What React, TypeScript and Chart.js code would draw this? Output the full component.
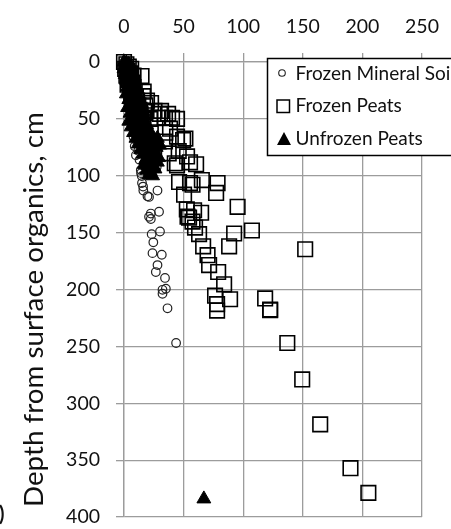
import React, { useEffect, useRef } from 'react';
import { Chart, registerables } from 'chart.js';

Chart.register(...registerables);

// ---- data ----
const xTickValues = [0, 50, 100, 150, 200, 250];
const yTickValues = [0, 50, 100, 150, 200, 250, 300, 350, 400];
const seriesNames = ['Frozen Mineral Soil', 'Frozen Peats', 'Unfrozen Peats'];
const yAxisTitle = 'Depth from surface organics, cm';
const panelMark = ')';

// [x, depth]
const mineralSoil: [number, number][] = [
  [1, 1], [2, 4], [3, 8], [1, 11], [4, 14], [2, 18], [5, 22], [3, 26], [6, 30], [4, 34],
  [7, 38], [5, 42], [8, 46], [6, 50], [9, 54], [7, 58], [10, 62], [8, 66], [11, 70], [9, 74],
  [12, 78], [10, 82], [13, 86],
  [15, 60], [16, 76], [18.5, 73], [17, 89], [25.6, 89], [14.1, 95], [27.5, 92], [14.3, 97.7],
  [14.9, 100.3], [15.1, 106.4], [16, 109.5], [16.2, 113], [28.1, 113], [21, 118.6], [19.7, 118],
  [22.5, 133.2], [29.4, 131.6], [21, 136], [22.5, 138], [23.2, 151.3], [30.2, 149], [24.6, 158.5],
  [23.9, 168], [31.7, 169.4], [28.1, 178.5], [26.7, 184.6], [34.4, 189.8], [32.3, 200.2],
  [35.1, 199.3], [32.3, 203.7], [36.5, 216.5], [43.7, 247],
];

const frozenPeats: [number, number][] = [
  [0, 0], [2, 2], [4, 4], [1, 6], [3, 8], [5, 10], [2, 12], [6, 14], [4, 16], [7, 18],
  [3, 20], [8, 22], [5, 24], [9, 26], [6, 28], [10, 30], [7, 32], [11, 34], [8, 36], [12, 38],
  [9, 40], [13, 42], [10, 44], [14, 46], [11, 48], [16, 30], [18, 38], [17, 44], [6, 6], [8, 12],
  [14.7, 12.3], [16.5, 26.1], [19.3, 34], [22.7, 36], [25.6, 43], [31.1, 43], [37, 45.6],
  [30.2, 45.6], [21.8, 50], [28.6, 49], [34.4, 49], [40.3, 49], [44.5, 50], [38.6, 58.6],
  [34.7, 62.1], [44.5, 65.6], [49.6, 68.6], [51.5, 67.3], [34.4, 69.9], [37.5, 80.3], [45.9, 78.2],
  [52.9, 83], [42.6, 89], [55.4, 88.2], [60.5, 89.9], [44.5, 90.8], [46.2, 105.5], [55.4, 106.4],
  [57.5, 107.9], [65.3, 103.8], [78.5, 106.4], [77.3, 115.1], [50.4, 116.6], [52.7, 129.6],
  [58.8, 130.3], [64.7, 132.5], [95.3, 127.3], [53.3, 135.9], [54.6, 136.8], [57.5, 140.3],
  [59.6, 145.5], [63, 151.3], [92.4, 150.7], [107.3, 148.1], [88.2, 162], [66.4, 162],
  [70.1, 169.8], [71.4, 178.5], [79, 184.6], [84, 195.4], [76.4, 205.4], [89, 208.5],
  [78.1, 212.8], [78.1, 218.5], [118.4, 207.8], [122.6, 217.6], [122.6, 218.2], [152, 164.6],
  [137, 247], [149.5, 279], [164.6, 318.5], [190, 357], [205, 378.7],
];

const unfrozenPeats: [number, number][] = [
  [0, 0], [2, 1], [4, 2], [1, 3], [6, 4], [3, 5], [0, 6], [5, 7], [2, 8], [7, 9], [4, 10],
  [1, 11], [6, 12], [3, 13], [8, 14], [5, 15], [2, 16], [7, 17], [4, 18], [9, 19], [6, 20],
  [3, 22], [8, 23], [11, 24], [5, 26], [10, 27], [2, 28], [7, 30], [12, 31], [4, 33], [9, 34],
  [14, 35], [6, 37], [11, 38], [3, 40], [8, 41], [13, 42], [16, 43], [5, 45], [10, 46], [15, 47],
  [7, 49], [12, 50], [18, 48],
  [4, 52], [9, 53], [14, 54], [19, 55], [6, 57], [11, 58], [16, 59], [21, 60], [8, 62], [13, 63],
  [18, 64], [23, 65], [10, 67], [15, 68], [20, 69], [26, 70], [28, 67],
  [12, 72], [17, 73], [22, 74], [27, 75], [30, 73], [14, 77], [19, 78], [24, 79], [16, 81],
  [21, 82], [26, 83], [29, 84], [18, 86], [23, 87], [28, 88], [17, 90], [20, 91], [25, 92],
  [19, 95], [22, 96], [26, 94], [21, 99], [24, 100],
  [67, 384],
];

// ---- styling ----
const FONT = 'Lato';
const TEXT = '#111';
const GRID = '#9c9c9c';

const fitSize = (ctx: CanvasRenderingContext2D, text: string, target: number) => {
  ctx.font = '40px Lato, sans-serif';
  const w = ctx.measureText(text).width;
  return (40 * target) / w;
};

const overlayPlugin = {
  id: 'overlay',
  afterDraw(chart: any) {
    const ctx: CanvasRenderingContext2D = chart.ctx;
    const area = chart.chartArea;
    ctx.save();

    // legend box
    const lx = area.left + 143;
    const ly = area.top - 4;
    ctx.fillStyle = '#fff';
    ctx.fillRect(lx, ly, 260, 98);
    ctx.strokeStyle = '#000';
    ctx.lineWidth = 1.5;
    ctx.strokeRect(lx + 0.5, ly + 0.5, 260, 97);

    const lsize = fitSize(ctx, 'Frozen Mineral Soi', 155);
    ctx.font = lsize.toFixed(2) + 'px Lato, sans-serif';
    ctx.fillStyle = TEXT;
    ctx.textAlign = 'left';
    ctx.textBaseline = 'alphabetic';
    const rows = [ly + 15, ly + 47.5, ly + 80.5];
    const mx = lx + 16;
    const tx = lx + 28.5;

    // circle
    ctx.beginPath();
    ctx.arc(mx - 1, rows[0], 3.3, 0, Math.PI * 2);
    ctx.lineWidth = 1.1;
    ctx.strokeStyle = '#222';
    ctx.stroke();
    // square
    ctx.lineWidth = 1.5;
    ctx.strokeStyle = '#000';
    ctx.strokeRect(mx - 6, rows[1] - 5.5, 12.5, 12.5);
    // triangle
    ctx.beginPath();
    ctx.moveTo(mx + 1, rows[2] - 6.5);
    ctx.lineTo(mx + 8, rows[2] + 6.5);
    ctx.lineTo(mx - 6, rows[2] + 6.5);
    ctx.closePath();
    ctx.fillStyle = '#000';
    ctx.fill();

    ctx.fillStyle = TEXT;
    seriesNames.forEach((name, i) => {
      ctx.fillText(name, tx, rows[i] + 0.3585 * lsize);
    });

    // y-axis title: runs bottom-to-top from y = 507 up to y = 112
    const tsize = fitSize(ctx, yAxisTitle, 395);
    ctx.save();
    ctx.translate(43, 507);
    ctx.rotate(-Math.PI / 2);
    ctx.font = tsize.toFixed(2) + 'px Lato, sans-serif';
    ctx.fillStyle = TEXT;
    ctx.textAlign = 'left';
    ctx.textBaseline = 'alphabetic';
    ctx.fillText(yAxisTitle, 0, 0);
    ctx.restore();

    // clipped panel label fragment
    ctx.font = 'bold 20px Lato, sans-serif';
    ctx.fillStyle = TEXT;
    ctx.textAlign = 'left';
    ctx.fillText(panelMark, -1, 521);

    ctx.restore();
  },
};

export default function App() {
  const ref = useRef<HTMLCanvasElement>(null);

  useEffect(() => {
    document.body.style.margin = '0';
    const canvas = ref.current;
    if (!canvas) return;
    const toPts = (arr: [number, number][]) => arr.map(([x, y]) => ({ x, y }));

    const chart = new Chart(canvas, {
      type: 'scatter',
      data: {
        datasets: [
          {
            label: seriesNames[0],
            data: toPts(mineralSoil),
            pointStyle: 'circle',
            pointRadius: 4.3,
            borderColor: '#222',
            backgroundColor: 'rgba(0,0,0,0)',
            borderWidth: 1.2,
            order: 1,
            clip: false,
          } as any,
          {
            label: seriesNames[1],
            data: toPts(frozenPeats),
            pointStyle: 'rect',
            pointRadius: 10.3,
            borderColor: '#000',
            backgroundColor: 'rgba(0,0,0,0)',
            borderWidth: 1.6,
            order: 2,
            clip: false,
          } as any,
          {
            label: seriesNames[2],
            data: toPts(unfrozenPeats),
            pointStyle: 'triangle',
            pointRadius: 8,
            borderColor: '#000',
            backgroundColor: '#000',
            borderWidth: 1,
            order: 0,
            clip: false,
          } as any,
        ],
      },
      options: {
        responsive: false,
        animation: false,
        devicePixelRatio: 1,
        events: [],
        layout: { padding: { top: 0, left: 0, right: 29, bottom: 6 } },
        plugins: { legend: { display: false }, tooltip: { enabled: false } },
        scales: {
          x: {
            type: 'linear',
            position: 'top',
            min: 0,
            max: 250,
            afterBuildTicks: (s: any) => {
              s.ticks = xTickValues.map((v) => ({ value: v }));
            },
            afterFit: (s: any) => {
              s.height = 62;
              s.paddingLeft = 0;
              s.paddingRight = 0;
              s.paddingTop = 0;
              s.paddingBottom = 0;
            },
            ticks: {
              font: { family: FONT, size: 19.5 },
              color: TEXT,
              padding: 15,
              maxRotation: 0,
              autoSkip: false,
            },
            grid: { color: GRID, lineWidth: 1.3, tickLength: 9, tickColor: GRID },
            border: { display: true, color: GRID, width: 1.3 },
          },
          y: {
            type: 'linear',
            reverse: true,
            min: 0,
            max: 400,
            afterBuildTicks: (s: any) => {
              s.ticks = yTickValues.map((v) => ({ value: v }));
            },
            afterFit: (s: any) => {
              s.width = 124;
              s.paddingTop = 0;
              s.paddingBottom = 0;
              s.paddingLeft = 0;
              s.paddingRight = 0;
            },
            ticks: {
              font: { family: FONT, size: 19.5 },
              color: TEXT,
              padding: 16,
              autoSkip: false,
            },
            grid: { color: GRID, lineWidth: 1.3, tickLength: 8, tickColor: GRID },
            border: { display: true, color: GRID, width: 1.3 },
          },
        },
      } as any,
      plugins: [overlayPlugin],
    });

    return () => chart.destroy();
  }, []);

  return <canvas ref={ref} width={451} height={529} style={{ display: 'block' }} />;
}
